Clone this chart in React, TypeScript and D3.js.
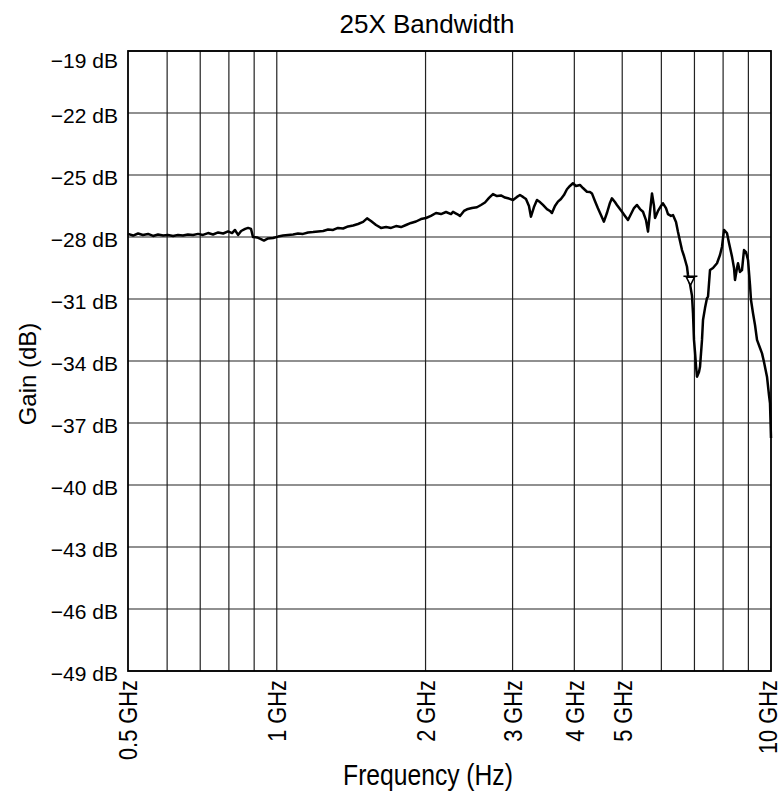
import React from "react";
import * as d3 from "d3";

// Frequency in GHz, gain in dB
const freqGHz: number[] = [
  0.5, 0.512, 0.524, 0.536, 0.549, 0.562, 0.575, 0.589, 0.602, 0.617, 0.631, 0.646, 0.661, 0.677, 0.693, 0.709,
  0.726, 0.743, 0.761, 0.779, 0.797, 0.812, 0.823, 0.835, 0.847, 0.863, 0.875, 0.887, 0.895, 0.912, 0.929, 0.942,
  0.96, 0.983, 1.006, 1.03, 1.054, 1.079, 1.104, 1.13, 1.157, 1.184, 1.212, 1.241, 1.27, 1.3, 1.33, 1.362,
  1.394, 1.427, 1.46, 1.495, 1.523, 1.551, 1.588, 1.625, 1.664, 1.703, 1.743, 1.784, 1.826, 1.869, 1.913, 1.958,
  2.004, 2.051, 2.1, 2.149, 2.2, 2.252, 2.273, 2.316, 2.348, 2.392, 2.426, 2.483, 2.541, 2.589, 2.638, 2.688,
  2.738, 2.79, 2.842, 2.896, 2.95, 3.006, 3.062, 3.105, 3.149, 3.193, 3.238, 3.268, 3.314, 3.361, 3.408, 3.456,
  3.521, 3.571, 3.604, 3.655, 3.706, 3.758, 3.811, 3.865, 3.919, 3.974, 4.03, 4.106, 4.164, 4.242, 4.302, 4.342,
  4.403, 4.465, 4.528, 4.591, 4.656, 4.722, 4.766, 4.833, 4.878, 4.947, 4.995, 5.065, 5.136, 5.209, 5.282, 5.356,
  5.432, 5.508, 5.585, 5.638, 5.69, 5.744, 5.798, 5.825, 5.907, 5.99, 6.046, 6.131, 6.188, 6.276, 6.334, 6.424,
  6.484, 6.544, 6.606, 6.667, 6.761, 6.793, 6.856, 6.921, 6.953, 6.985, 7.018, 7.051, 7.084, 7.15, 7.184, 7.251,
  7.285, 7.353, 7.422, 7.457, 7.526, 7.632, 7.776, 7.885, 7.959, 8.034, 8.109, 8.147, 8.223, 8.339, 8.417, 8.456,
  8.535, 8.575, 8.655, 8.736, 8.818, 8.901, 8.984, 9.068, 9.11, 9.196, 9.282, 9.369, 9.501, 9.59, 9.679, 9.815,
  9.907, 9.954, 10.0,
];

const gainDb: number[] = [
  -27.85, -27.93, -27.83, -27.9, -27.85, -27.95, -27.88, -27.93, -27.9, -27.95, -27.9, -27.93, -27.88, -27.9, -27.85, -27.9,
  -27.81, -27.88, -27.78, -27.83, -27.73, -27.81, -27.66, -27.9, -27.71, -27.61, -27.56, -27.61, -28.0, -28.02, -28.1, -28.17,
  -28.07, -28.05, -27.98, -27.93, -27.9, -27.88, -27.83, -27.85, -27.78, -27.76, -27.73, -27.71, -27.64, -27.66, -27.56, -27.59,
  -27.49, -27.44, -27.37, -27.27, -27.1, -27.23, -27.42, -27.56, -27.52, -27.56, -27.47, -27.52, -27.42, -27.32, -27.25, -27.13,
  -27.08, -26.98, -26.84, -26.89, -26.79, -26.89, -26.78, -26.89, -26.98, -26.74, -26.66, -26.6, -26.56, -26.45, -26.33, -26.11,
  -25.92, -26.02, -25.99, -26.09, -26.14, -26.21, -26.06, -25.97, -26.06, -26.16, -26.5, -27.02, -26.55, -26.21, -26.31, -26.45,
  -26.65, -26.74, -26.84, -26.5, -26.29, -26.16, -25.97, -25.69, -25.53, -25.4, -25.53, -25.48, -25.63, -25.81, -25.82, -25.89,
  -26.26, -26.61, -26.94, -27.26, -26.84, -26.35, -26.13, -26.31, -26.45, -26.65, -26.78, -26.98, -27.18, -26.89, -26.6, -26.45,
  -26.65, -26.78, -27.18, -27.74, -26.79, -25.89, -26.5, -27.08, -26.74, -26.5, -26.37, -26.6, -26.89, -26.98, -26.94, -27.27,
  -27.76, -28.19, -28.63, -28.92, -29.44, -29.84, -30.27, -30.85, -31.68, -32.98, -33.56, -34.24, -34.76, -34.53, -34.28, -32.98,
  -32.02, -31.44, -30.95, -30.89, -29.6, -29.5, -29.27, -28.87, -28.47, -27.66, -27.76, -27.82, -28.29, -28.95, -29.5, -30.08,
  -29.5, -29.27, -29.69, -29.6, -28.63, -28.73, -29.11, -30.32, -31.05, -31.69, -32.26, -32.98, -33.37, -33.63, -34.05, -34.76,
  -35.65, -36.05, -37.73,
];

const yTickValues: number[] = [-19, -22, -25, -28, -31, -34, -37, -40, -43, -46, -49];
const xTickValues: number[] = [0.5, 1, 2, 3, 4, 5, 10];
const xTickLabels: string[] = ["0.5 GHz", "1 GHz", "2 GHz", "3 GHz", "4 GHz", "5 GHz", "10 GHz"];
const xGridValues: number[] = [0.6, 0.7, 0.8, 0.9, 1, 2, 3, 4, 5, 6, 7, 8, 9];
const markerFreq = 6.87;
const markerGain = -29.9;

const titleText = "25X Bandwidth";
const xAxisTitle = "Frequency (Hz)";
const yAxisTitle = "Gain (dB)";

const W = 783;
const H = 796;
const left = 128;
const right = 771;
const top = 51;
const bottom = 671;
const FONT = "'Liberation Sans', Arial, Helvetica, sans-serif";

export default function App() {
  const x = d3.scaleLog().domain([0.5, 10]).range([left, right]);
  const y = d3.scaleLinear().domain([-49, -19]).range([bottom, top]);

  const pts: [number, number][] = freqGHz.map((f, i) => [f, gainDb[i]]);
  const line = d3
    .line<[number, number]>()
    .x((d) => x(d[0]))
    .y((d) => y(d[1]));

  const mx = x(markerFreq);
  const my = y(markerGain);

  return (
    <svg
      width={W}
      height={H}
      style={{ position: "absolute", left: 0, top: 0, background: "#fff" }}
      fontFamily={FONT}
    >
      <rect x={0} y={0} width={W} height={H} fill="#fff" />
      {/* horizontal grid */}
      {yTickValues.map((v) => (
        <line key={"h" + v} x1={left} x2={right} y1={y(v)} y2={y(v)} stroke="#222" strokeWidth={1.2} />
      ))}
      {/* vertical grid */}
      {xGridValues.map((v) => (
        <line key={"v" + v} x1={x(v)} x2={x(v)} y1={top} y2={bottom} stroke="#222" strokeWidth={1.2} />
      ))}
      {/* frame */}
      <rect x={left} y={top} width={right - left} height={bottom - top} fill="none" stroke="#000" strokeWidth={1.8} />

      {/* trace */}
      <path d={line(pts) || ""} fill="none" stroke="#000" strokeWidth={2.5} strokeLinejoin="round" />

      {/* marker */}
      <g stroke="#000" strokeWidth={1.6} fill="#fff">
        <line x1={mx - 7} x2={mx + 7} y1={my} y2={my} />
        <path d={`M${mx - 4},${my + 1} L${mx + 4},${my + 1} L${mx},${my + 9} Z`} />
      </g>

      {/* y tick labels */}
      {yTickValues.map((v, i) => {
        const gy = y(v) + (i === 0 ? 9.5 : 2);
        return (
          <text key={"yt" + v} x={118} y={gy + 7.5} textAnchor="end" fontSize={21} fill="#000">
            {"\u2212" + Math.abs(v) + " dB"}
          </text>
        );
      })}

      {/* x tick labels */}
      {xTickValues.map((v, i) => {
        const off = i === xTickValues.length - 1 ? 6 : 9.3;
        return (
          <text
            key={"xt" + v}
            transform={`translate(${x(v) + off},680) rotate(-90) scale(0.84,1)`}
            textAnchor="end"
            fontSize={26}
            fill="#000"
          >
            {xTickLabels[i]}
          </text>
        );
      })}

      {/* title */}
      <text x={427} y={33} textAnchor="middle" fontSize={26} fill="#000">
        {titleText}
      </text>

      {/* axis titles */}
      <text transform="translate(428,785) scale(0.85,1)" textAnchor="middle" fontSize={29} fill="#000">
        {xAxisTitle}
      </text>
      <text transform="translate(36,374) rotate(-90)" textAnchor="middle" fontSize={24} fill="#000">
        {yAxisTitle}
      </text>
    </svg>
  );
}
